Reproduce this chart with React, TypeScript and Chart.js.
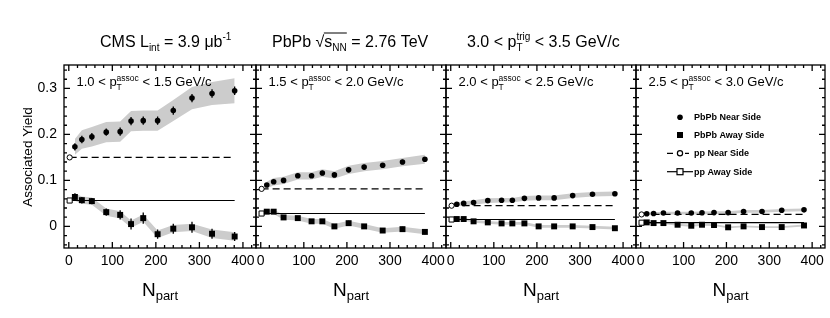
import React, { useEffect, useRef } from 'react';
import { Chart, registerables } from 'chart.js';

Chart.register(...registerables);

const FONT = '"Liberation Sans", Arial, Helvetica, sans-serif';
const GRAY = '#cccccc';

// ---------------- data ----------------
const nPart = [14, 30, 53, 86, 118, 143, 171, 204, 240, 283, 329, 381];
const ppNpart = [2, 381];
const xTickValues = [0, 100, 200, 300, 400];
const yTickValues = [0, 0.1, 0.2, 0.3];
const assocLow = ['1.0', '1.5', '2.0', '2.5'];
const assocHigh = ['1.5', '2.0', '2.5', '3.0'];
const legendLabels = ['PbPb Near Side', 'PbPb Away Side', 'pp Near Side', 'pp Away Side'];

const near1 = [0.173, 0.189, 0.195, 0.205, 0.206, 0.229, 0.23, 0.23, 0.252, 0.279, 0.289, 0.295];
const near1Stat = [0.008, 0.008, 0.008, 0.008, 0.009, 0.009, 0.009, 0.009, 0.009, 0.009, 0.009, 0.009];
const near1Sys = [0.017, 0.02, 0.021, 0.022, 0.022, 0.022, 0.022, 0.022, 0.023, 0.024, 0.025, 0.027];
const away1 = [0.064, 0.057, 0.055, 0.031, 0.025, 0.005, 0.018, -0.017, -0.005, -0.002, -0.016, -0.022];
const away1Stat = [0.008, 0.007, 0.007, 0.008, 0.01, 0.012, 0.012, 0.01, 0.011, 0.012, 0.011, 0.01];
const away1Sys = [0.008, 0.008, 0.008, 0.008, 0.008, 0.008, 0.008, 0.008, 0.008, 0.008, 0.009, 0.009];

const near2 = [0.09, 0.097, 0.1, 0.11, 0.11, 0.116, 0.112, 0.123, 0.129, 0.133, 0.14, 0.146];
const near2Stat = [0.004, 0.004, 0.004, 0.005, 0.005, 0.005, 0.005, 0.005, 0.005, 0.005, 0.005, 0.005];
const near2Sys = [0.007, 0.008, 0.008, 0.008, 0.008, 0.008, 0.008, 0.009, 0.009, 0.009, 0.009, 0.01];
const away2 = [0.032, 0.032, 0.0195, 0.018, 0.011, 0.011, 0.0, 0.007, 0.0, -0.009, -0.006, -0.012];
const away2Stat = [0.004, 0.004, 0.004, 0.004, 0.005, 0.005, 0.005, 0.005, 0.005, 0.005, 0.005, 0.005];
const away2Sys = [0.005, 0.005, 0.005, 0.005, 0.005, 0.005, 0.005, 0.005, 0.005, 0.005, 0.005, 0.005];

const near3 = [0.048, 0.05, 0.052, 0.056, 0.057, 0.057, 0.061, 0.062, 0.062, 0.067, 0.07, 0.071];
const near3Stat = [0.002, 0.002, 0.002, 0.002, 0.002, 0.002, 0.002, 0.002, 0.002, 0.002, 0.002, 0.002];
const near3Sys = [0.004, 0.004, 0.005, 0.005, 0.005, 0.005, 0.005, 0.005, 0.005, 0.005, 0.005, 0.005];
const away3 = [0.016, 0.016, 0.011, 0.0087, 0.0065, 0.0065, 0.0065, 0.0, 0.0, 0.0, -0.0015, -0.004];
const away3Stat = [0.002, 0.002, 0.002, 0.002, 0.002, 0.002, 0.002, 0.002, 0.002, 0.002, 0.002, 0.002];
const away3Sys = [0.003, 0.003, 0.003, 0.003, 0.003, 0.003, 0.003, 0.003, 0.003, 0.003, 0.003, 0.003];

const near4 = [0.0274, 0.028, 0.029, 0.029, 0.029, 0.0296, 0.03, 0.03, 0.0325, 0.0325, 0.035, 0.036];
const near4Stat = [0.001, 0.001, 0.001, 0.001, 0.001, 0.001, 0.001, 0.001, 0.001, 0.001, 0.001, 0.001];
const near4Sys = [0.003, 0.003, 0.003, 0.003, 0.003, 0.003, 0.003, 0.003, 0.003, 0.003, 0.003, 0.003];
const away4 = [0.0087, 0.0072, 0.0072, 0.0036, 0.0014, 0.0036, 0.003, -0.002, 0.0, -0.0015, -0.0015, 0.002];
const away4Stat = [0.001, 0.001, 0.001, 0.001, 0.001, 0.001, 0.001, 0.001, 0.001, 0.001, 0.001, 0.001];
const away4Sys = [0.002, 0.002, 0.002, 0.002, 0.002, 0.002, 0.002, 0.002, 0.002, 0.002, 0.002, 0.002];

const ppNear = [0.15, 0.0816, 0.045, 0.026];
const ppAway = [0.0563, 0.028, 0.015, 0.008];

const panels = [
  { near: near1, nearStat: near1Stat, nearSys: near1Sys, away: away1, awayStat: away1Stat, awaySys: away1Sys },
  { near: near2, nearStat: near2Stat, nearSys: near2Sys, away: away2, awayStat: away2Stat, awaySys: away2Sys },
  { near: near3, nearStat: near3Stat, nearSys: near3Sys, away: away3, awayStat: away3Stat, awaySys: away3Sys },
  { near: near4, nearStat: near4Stat, nearSys: near4Sys, away: away4, awayStat: away4Stat, awaySys: away4Sys },
];

// ---------------- layout ----------------
const W = 830;
const H = 318;
const PANEL_LEFT = [64, 256, 446, 636];
const PANEL_RIGHT = [256, 446, 636, 826];
const PANEL_TOP = 65;
const PANEL_BOTTOM = 248;
const X_AXIS_H = 30;
const X_MIN = -11;
const X_MAX = 430;
const Y_MIN = -0.047;
const Y_MAX = 0.351;

type Seg = { t: string; size: number; dy?: number; bold?: boolean; stay?: boolean };

function drawSegs(ctx: CanvasRenderingContext2D, x0: number, y: number, segs: Seg[], align: 'left' | 'center' = 'left') {
  const widths = segs.map((g) => {
    ctx.font = `${g.bold ? 'bold ' : ''}${g.size}px ${FONT}`;
    return ctx.measureText(g.t).width;
  });
  let total = 0;
  segs.forEach((g, k) => {
    if (!g.stay) total += widths[k];
  });
  let x = align === 'center' ? x0 - total / 2 : x0;
  const xs: number[] = [];
  ctx.textAlign = 'left';
  ctx.textBaseline = 'alphabetic';
  segs.forEach((g, k) => {
    ctx.font = `${g.bold ? 'bold ' : ''}${g.size}px ${FONT}`;
    ctx.fillText(g.t, x, y + (g.dy || 0));
    xs.push(x);
    if (!g.stay) x += widths[k];
  });
  xs.push(x);
  return xs;
}

const framePlugin = {
  id: 'frame',
  afterDatasetsDraw(chart: any) {
    const { ctx, chartArea: a, scales } = chart;
    const xs = scales.x;
    const ys = scales.y;
    ctx.save();
    ctx.strokeStyle = '#000';
    ctx.lineWidth = 1.3;
    ctx.strokeRect(a.left, a.top, a.right - a.left, a.bottom - a.top);
    ctx.beginPath();
    for (let v = 0; v <= X_MAX; v += 20) {
      const px = xs.getPixelForValue(v);
      const len = v % 100 === 0 ? 6 : 3;
      ctx.moveTo(px, a.bottom);
      ctx.lineTo(px, a.bottom - len);
      ctx.moveTo(px, a.top);
      ctx.lineTo(px, a.top + len);
    }
    for (let k = -2; k <= 17; k++) {
      const v = k * 0.02;
      if (v < Y_MIN || v > Y_MAX) continue;
      const py = ys.getPixelForValue(v);
      const len = k % 5 === 0 ? 6 : 3;
      ctx.moveTo(a.left, py);
      ctx.lineTo(a.left + len, py);
      ctx.moveTo(a.right, py);
      ctx.lineTo(a.right - len, py);
    }
    ctx.stroke();
    ctx.restore();
  },
};

const errorBarPlugin = {
  id: 'errbars',
  beforeDatasetDraw(chart: any, args: any) {
    const ds = chart.data.datasets[args.index];
    if (!ds.errors) return;
    const { ctx, scales } = chart;
    ctx.save();
    ctx.strokeStyle = '#000';
    ctx.lineWidth = 1.3;
    ctx.beginPath();
    ds.data.forEach((p: any, k: number) => {
      const px = scales.x.getPixelForValue(p.x);
      ctx.moveTo(px, scales.y.getPixelForValue(p.y - ds.errors[k]));
      ctx.lineTo(px, scales.y.getPixelForValue(p.y + ds.errors[k]));
    });
    ctx.stroke();
    ctx.restore();
  },
};

function makeTextPlugin(i: number) {
  return {
    id: 'texts' + i,
    afterDraw(chart: any) {
      const { ctx, chartArea: a } = chart;
      ctx.save();
      ctx.fillStyle = '#000';
      // panel pT label
      drawSegs(ctx, a.left + 12.5, a.top + 21, [
        { t: `${assocLow[i]} < p`, size: 13 },
        { t: 'T', size: 8.5, dy: 3.5, stay: true },
        { t: 'assoc', size: 8.5, dy: -5.5 },
        { t: ` < ${assocHigh[i]} GeV/c`, size: 13 },
      ]);
      // x axis title
      drawSegs(ctx, (a.left + a.right) / 2, 296, [
        { t: 'N', size: 19 },
        { t: 'part', size: 13, dy: 4 },
      ], 'center');

      if (i === 0) {
        drawSegs(ctx, 100, 46.5, [
          { t: 'CMS L', size: 16 },
          { t: 'int', size: 10, dy: 4 },
          { t: ' = 3.9 \u03bcb', size: 16 },
          { t: '-1', size: 10, dy: -7 },
        ]);
        const xs = drawSegs(ctx, 272, 46.5, [
          { t: 'PbPb ', size: 16 },
          { t: '\u221a', size: 16 },
          { t: 's', size: 16 },
          { t: 'NN', size: 10, dy: 4 },
          { t: ' = 2.76 TeV', size: 16 },
        ]);
        ctx.strokeStyle = '#000';
        ctx.lineWidth = 1;
        ctx.beginPath();
        ctx.moveTo(xs[2] - 0.5, 46.5 - 13.5);
        ctx.lineTo(xs[4], 46.5 - 13.5);
        ctx.stroke();
        drawSegs(ctx, 467, 46.5, [
          { t: '3.0 < p', size: 16 },
          { t: 'T', size: 10, dy: 4, stay: true },
          { t: 'trig', size: 10, dy: -7 },
          { t: ' < 3.5 GeV/c', size: 16 },
        ]);
        // y title
        ctx.save();
        ctx.translate(28, (a.top + a.bottom) / 2 + 0.5);
        ctx.rotate(-Math.PI / 2);
        ctx.font = `13.5px ${FONT}`;
        ctx.textAlign = 'center';
        ctx.textBaseline = 'middle';
        ctx.fillText('Associated Yield', 0, 0);
        ctx.restore();
      }

      if (i === 3) {
        const mx = a.left + 44;
        const rowY = [52.3, 70, 88.3, 106.7].map((d) => a.top + d);
        ctx.strokeStyle = '#000';
        ctx.fillStyle = '#000';
        ctx.lineWidth = 1.2;
        // PbPb near
        ctx.beginPath();
        ctx.arc(mx, rowY[0], 2.8, 0, Math.PI * 2);
        ctx.fill();
        // PbPb away
        ctx.fillRect(mx - 3, rowY[1] - 3, 6, 6);
        // pp near
        ctx.beginPath();
        ctx.moveTo(mx - 13, rowY[2]);
        ctx.lineTo(mx - 7, rowY[2]);
        ctx.moveTo(mx + 5, rowY[2]);
        ctx.lineTo(mx + 9, rowY[2]);
        ctx.stroke();
        ctx.beginPath();
        ctx.arc(mx, rowY[2], 2.6, 0, Math.PI * 2);
        ctx.fillStyle = '#fff';
        ctx.fill();
        ctx.stroke();
        // pp away
        ctx.beginPath();
        ctx.moveTo(mx - 13, rowY[3]);
        ctx.lineTo(mx + 13, rowY[3]);
        ctx.stroke();
        ctx.fillRect(mx - 3, rowY[3] - 3, 6, 6);
        ctx.strokeRect(mx - 3, rowY[3] - 3, 6, 6);
        ctx.fillStyle = '#000';
        ctx.font = `bold 9px ${FONT}`;
        ctx.textAlign = 'left';
        ctx.textBaseline = 'middle';
        legendLabels.forEach((lab, k) => ctx.fillText(lab, mx + 14, rowY[k] + 0.5));
      }
      ctx.restore();
    },
  };
}

function makeConfig(p: any, i: number): any {
  const pts = (vals: number[]) => nPart.map((x, k) => ({ x, y: vals[k] }));
  const edge = (vals: number[], sys: number[], s: number) => nPart.map((x, k) => ({ x, y: vals[k] + s * sys[k] }));
  const flat = (v: number) => ppNpart.map((x) => ({ x, y: v }));
  const clear = 'rgba(0,0,0,0)';
  const bandDs = (data: any, fill: any) => ({
    data,
    borderColor: clear,
    borderWidth: 1,
    pointRadius: 0,
    fill,
    backgroundColor: GRAY,
    tension: 0,
    order: 3,
  });
  const yWidth = i === 0 ? PANEL_LEFT[0] : 0;
  return {
    type: 'line',
    data: {
      datasets: [
        bandDs(edge(p.near, p.nearSys, -1), false),
        bandDs(edge(p.near, p.nearSys, 1), '-1'),
        bandDs(edge(p.away, p.awaySys, -1), false),
        bandDs(edge(p.away, p.awaySys, 1), '-1'),
        {
          data: flat(ppNear[i]),
          borderColor: '#000',
          borderWidth: 1.2,
          borderDash: [7, 4],
          pointStyle: 'circle',
          pointRadius: [2.6, 0],
          pointBackgroundColor: '#fff',
          pointBorderColor: '#000',
          pointBorderWidth: 1,
          fill: false,
          order: 2,
        },
        {
          data: flat(ppAway[i]),
          borderColor: '#000',
          borderWidth: 1.2,
          pointStyle: 'rect',
          pointRadius: [3.6, 0],
          pointBackgroundColor: '#fff',
          pointBorderColor: '#000',
          pointBorderWidth: 1,
          fill: false,
          order: 2,
        },
        {
          data: pts(p.near),
          errors: p.nearStat,
          showLine: false,
          pointStyle: 'circle',
          pointRadius: 2.8,
          pointBackgroundColor: '#000',
          pointBorderColor: '#000',
          pointBorderWidth: 0,
          fill: false,
          order: 1,
        },
        {
          data: pts(p.away),
          errors: p.awayStat,
          showLine: false,
          pointStyle: 'rect',
          pointRadius: 4.2,
          pointBackgroundColor: '#000',
          pointBorderColor: '#000',
          pointBorderWidth: 0,
          fill: false,
          order: 1,
        },
      ],
    },
    options: {
      responsive: false,
      animation: false,
      devicePixelRatio: 1,
      events: [],
      layout: {
        padding: {
          left: PANEL_LEFT[i] - yWidth,
          right: W - PANEL_RIGHT[i],
          top: PANEL_TOP,
          bottom: H - PANEL_BOTTOM - X_AXIS_H,
        },
      },
      plugins: { legend: { display: false }, tooltip: { enabled: false }, title: { display: false } },
      scales: {
        x: {
          type: 'linear',
          min: X_MIN,
          max: X_MAX,
          afterFit: (s: any) => { s.height = X_AXIS_H; },
          afterBuildTicks: (s: any) => { s.ticks = xTickValues.map((v) => ({ value: v })); },
          grid: { display: false, drawTicks: false },
          border: { display: false },
          ticks: {
            padding: 5,
            color: '#000',
            font: { family: FONT, size: 14 },
            maxRotation: 0,
            autoSkip: false,
            callback: (v: any) => String(v),
          },
        },
        y: {
          type: 'linear',
          display: i === 0,
          min: Y_MIN,
          max: Y_MAX,
          afterFit: (s: any) => { s.width = yWidth; },
          afterBuildTicks: (s: any) => { s.ticks = yTickValues.map((v) => ({ value: v })); },
          grid: { display: false, drawTicks: false },
          border: { display: false },
          ticks: {
            padding: 7,
            color: '#000',
            font: { family: FONT, size: 14 },
            autoSkip: false,
            callback: (v: any) => (Math.abs(v) < 1e-9 ? '0' : Number(v).toFixed(1)),
          },
        },
      },
    },
    plugins: [errorBarPlugin, framePlugin, makeTextPlugin(i)],
  };
}

export default function App() {
  const r0 = useRef<HTMLCanvasElement>(null);
  const r1 = useRef<HTMLCanvasElement>(null);
  const r2 = useRef<HTMLCanvasElement>(null);
  const r3 = useRef<HTMLCanvasElement>(null);
  const refs = [r0, r1, r2, r3];

  useEffect(() => {
    const charts = panels.map((p, i) => new Chart(refs[i].current as HTMLCanvasElement, makeConfig(p, i)));
    return () => charts.forEach((c) => c.destroy());
  }, []);

  return (
    <div style={{ position: 'fixed', left: 0, top: 0, width: W, height: H, background: '#fff' }}>
      {refs.map((r, i) => (
        <canvas
          key={i}
          ref={r}
          width={W}
          height={H}
          style={{ position: 'absolute', left: 0, top: 0, width: W, height: H }}
        />
      ))}
    </div>
  );
}
